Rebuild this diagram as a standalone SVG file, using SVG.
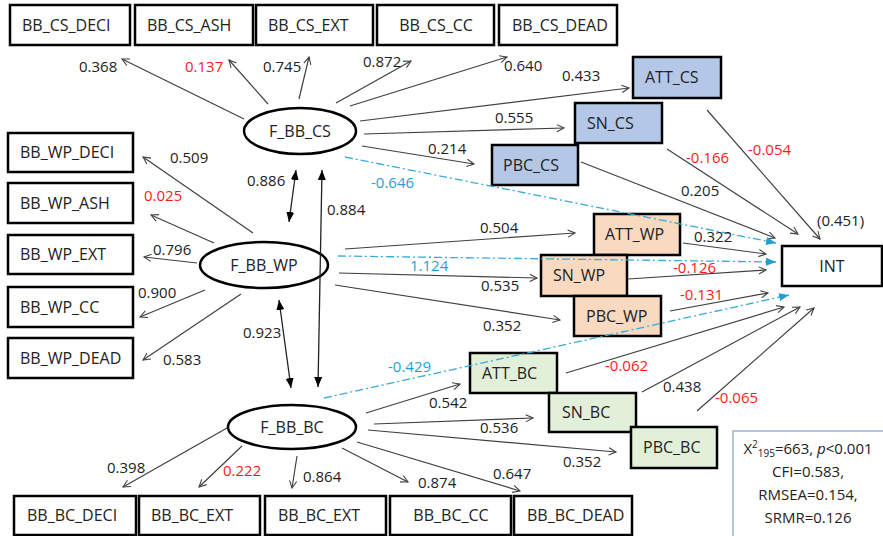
<svg xmlns="http://www.w3.org/2000/svg" width="883" height="536" viewBox="0 0 883 536">
<defs>
<style>
text{font-family:"Open Sans","Noto Sans","Liberation Sans",sans-serif;font-size:15px;fill:#222}
.n text{font-size:16px}
.box{fill:#fff;stroke:#000;stroke-width:2.5}
.cs{fill:#b4c7e7;stroke:#000;stroke-width:2.5}
.wp{fill:#f9dac0;stroke:#000;stroke-width:2.5}
.bc{fill:#e2efd9;stroke:#000;stroke-width:2.5}
.lat{fill:#fff;stroke:#000;stroke-width:2.5}
.ln{stroke:#404040;stroke-width:1.2;fill:none;marker-end:url(#ah)}
.dbl{stroke:#222;stroke-width:1.3;fill:none;marker-start:url(#fh);marker-end:url(#fh)}
.bl{stroke:#35acd8;stroke-width:1.3;fill:none;stroke-dasharray:8 3 2 3;marker-end:url(#bh)}
.r{fill:#ff1a1a}
.b{fill:#1f9fd2}
.st{fill:#fff;stroke:#9db4d0;stroke-width:1.5}
.c{text-anchor:middle}
</style>
<marker id="ah" viewBox="0 0 10 10" refX="9" refY="5" markerWidth="9" markerHeight="9" markerUnits="userSpaceOnUse" orient="auto"><path d="M1,1 L9,5 L1,9" fill="none" stroke="#404040" stroke-width="1.2"/></marker>
<marker id="fh" viewBox="0 0 10 10" refX="10" refY="5" markerWidth="10" markerHeight="10" markerUnits="userSpaceOnUse" orient="auto-start-reverse"><path d="M0,1 L10,5 L0,9z" fill="#000"/></marker>
<marker id="bh" viewBox="0 0 10 10" refX="10" refY="5" markerWidth="10" markerHeight="10" markerUnits="userSpaceOnUse" orient="auto"><path d="M0,1 L10,5 L0,9z" fill="#1f9fd2"/></marker>
</defs>

<g class="n">
<g id="BB_CS_DECI"><rect class="box" x="10" y="5" width="120" height="40"/><text x="22" y="31">BB_CS_DECI</text></g>
<g id="BB_CS_ASH"><rect class="box" x="135" y="5" width="118" height="40"/><text x="147" y="31">BB_CS_ASH</text></g>
<g id="BB_CS_EXT"><rect class="box" x="256" y="5" width="117" height="40"/><text x="268" y="31">BB_CS_EXT</text></g>
<g id="BB_CS_CC"><rect class="box" x="377" y="5" width="117" height="40"/><text class="c" x="436" y="31">BB_CS_CC</text></g>
<g id="BB_CS_DEAD"><rect class="box" x="499" y="5" width="118" height="40"/><text x="512" y="31">BB_CS_DEAD</text></g>

<g id="BB_WP_DECI"><rect class="box" x="8" y="133" width="125" height="39"/><text x="20" y="158">BB_WP_DECI</text></g>
<g id="BB_WP_ASH"><rect class="box" x="8" y="183" width="125" height="40"/><text x="20" y="209">BB_WP_ASH</text></g>
<g id="BB_WP_EXT"><rect class="box" x="8" y="235" width="125" height="39"/><text x="20" y="260">BB_WP_EXT</text></g>
<g id="BB_WP_CC"><rect class="box" x="8" y="287" width="125" height="40"/><text x="20" y="313">BB_WP_CC</text></g>
<g id="BB_WP_DEAD"><rect class="box" x="8" y="338" width="125" height="40"/><text x="20" y="364">BB_WP_DEAD</text></g>

<g id="BB_BC_DECI"><rect class="box" x="14" y="496" width="122" height="39"/><text x="27" y="521">BB_BC_DECI</text></g>
<g id="BB_BC_EXT"><rect class="box" x="139" y="496" width="121" height="39"/><text x="151" y="521">BB_BC_EXT</text></g>
<g id="BB_BC_EXT2"><rect class="box" x="265" y="496" width="121" height="39"/><text x="278" y="521">BB_BC_EXT</text></g>
<g id="BB_BC_CC"><rect class="box" x="390" y="496" width="121" height="39"/><text class="c" x="451" y="521">BB_BC_CC</text></g>
<g id="BB_BC_DEAD"><rect class="box" x="514" y="496" width="118" height="39"/><text x="527" y="521">BB_BC_DEAD</text></g>

<g id="ATT_CS"><rect class="cs" x="633" y="57" width="88" height="41"/><text x="645" y="83">ATT_CS</text></g>
<g id="SN_CS"><rect class="cs" x="575" y="103" width="87" height="40"/><text x="587" y="129">SN_CS</text></g>
<g id="PBC_CS"><rect class="cs" x="492" y="145" width="86" height="40"/><text x="503" y="171">PBC_CS</text></g>
<g id="ATT_WP"><rect class="wp" x="594" y="214" width="86" height="41"/><text x="605" y="240">ATT_WP</text></g>
<g id="SN_WP"><rect class="wp" x="541" y="255" width="86" height="41"/><text x="553" y="281">SN_WP</text></g>
<g id="PBC_WP"><rect class="wp" x="574" y="296" width="87" height="40"/><text x="586" y="322">PBC_WP</text></g>
<g id="ATT_BC"><rect class="bc" x="470" y="353" width="87" height="40"/><text x="482" y="379">ATT_BC</text></g>
<g id="SN_BC"><rect class="bc" x="549" y="393" width="87" height="39"/><text x="562" y="418">SN_BC</text></g>
<g id="PBC_BC"><rect class="bc" x="631" y="427" width="86" height="41"/><text x="643" y="453">PBC_BC</text></g>
<g id="INT"><rect class="box" x="782" y="246" width="100" height="40"/><text class="c" x="832" y="272">INT</text></g>

<g id="F_BB_CS"><ellipse class="lat" cx="300" cy="131" rx="56" ry="23"/><text class="c" x="300" y="137">F_BB_CS</text></g>
<g id="F_BB_WP"><ellipse class="lat" cx="264" cy="265" rx="64" ry="23"/><text class="c" x="264" y="271">F_BB_WP</text></g>
<g id="F_BB_BC"><ellipse class="lat" cx="292" cy="427" rx="64" ry="22"/><text class="c" x="292" y="433">F_BB_BC</text></g>
</g>

<g id="connectors">
<line class="ln" x1="244" y1="119" x2="122" y2="59"/>
<line class="ln" x1="268" y1="104" x2="229" y2="60"/>
<line class="ln" x1="299" y1="99" x2="309" y2="57"/>
<line class="ln" x1="336" y1="103" x2="411" y2="61"/>
<line class="ln" x1="350" y1="106" x2="507" y2="57"/>
<line class="ln" x1="360" y1="121" x2="629" y2="88"/>
<line class="ln" x1="364" y1="134" x2="564" y2="128"/>
<line class="ln" x1="362" y1="146" x2="474" y2="164"/>

<line class="ln" x1="253" y1="233" x2="143" y2="157"/>
<line class="ln" x1="214" y1="243" x2="151" y2="215"/>
<line class="ln" x1="197" y1="263" x2="144" y2="257"/>
<line class="ln" x1="205" y1="290" x2="140" y2="317"/>
<line class="ln" x1="241" y1="294" x2="143" y2="360"/>
<line class="ln" x1="345" y1="249" x2="575" y2="233"/>
<line class="ln" x1="339" y1="273" x2="537" y2="278"/>
<line class="ln" x1="335" y1="285" x2="560" y2="320"/>

<line class="ln" x1="227" y1="428" x2="123" y2="487"/>
<line class="ln" x1="242" y1="446" x2="199" y2="487"/>
<line class="ln" x1="297" y1="456" x2="292" y2="488"/>
<line class="ln" x1="342" y1="448" x2="408" y2="482"/>
<line class="ln" x1="357" y1="442" x2="520" y2="491"/>
<line class="ln" x1="366" y1="413" x2="460" y2="384"/>
<line class="ln" x1="374" y1="424" x2="533" y2="418"/>
<line class="ln" x1="368" y1="430" x2="616" y2="452"/>

<line class="dbl" x1="289" y1="222" x2="296" y2="170"/>
<line class="dbl" x1="322" y1="170" x2="318" y2="387"/>
<line class="dbl" x1="279" y1="300" x2="291" y2="388"/>

<line class="ln" x1="707" y1="110" x2="820" y2="239"/>
<line class="ln" x1="667" y1="149" x2="798" y2="234"/>
<line class="ln" x1="581" y1="162" x2="775" y2="238"/>
<line class="ln" x1="683" y1="243" x2="766" y2="254"/>
<line class="ln" x1="628" y1="279" x2="766" y2="270"/>
<line class="ln" x1="670" y1="311" x2="768" y2="293"/>
<line class="ln" x1="566" y1="373" x2="784" y2="307"/>
<line class="ln" x1="642" y1="392" x2="800" y2="307"/>
<line class="ln" x1="697" y1="411" x2="814" y2="308"/>

<line class="bl" x1="345" y1="157" x2="776" y2="243"/>
<line class="bl" x1="338" y1="256" x2="776" y2="262"/>
<line class="bl" x1="324" y1="398" x2="789" y2="295"/>
</g>

<g id="labels">
<text x="79" y="72">0.368</text>
<text class="r" x="185" y="72">0.137</text>
<text x="263" y="72">0.745</text>
<text x="363" y="67">0.872</text>
<text x="504" y="71">0.640</text>
<text x="562" y="81">0.433</text>
<text x="495" y="123">0.555</text>
<text x="428" y="154">0.214</text>
<text x="170" y="163">0.509</text>
<text class="r" x="144" y="201">0.025</text>
<text x="153" y="255">0.796</text>
<text x="138" y="298">0.900</text>
<text x="163" y="365">0.583</text>
<text x="247" y="186">0.886</text>
<text x="327" y="215">0.884</text>
<text x="243" y="338">0.923</text>
<text class="b" x="371" y="188">-0.646</text>
<text x="480" y="233">0.504</text>
<text class="b" x="410" y="271">1.124</text>
<text x="481" y="291">0.535</text>
<text x="483" y="331">0.352</text>
<text class="b" x="388" y="372">-0.429</text>
<text x="429" y="408">0.542</text>
<text x="480" y="433">0.536</text>
<text x="563" y="467">0.352</text>
<text x="107" y="473">0.398</text>
<text class="r" x="223" y="476">0.222</text>
<text x="303" y="482">0.864</text>
<text x="418" y="488">0.874</text>
<text x="493" y="479">0.647</text>
<text class="r" x="748" y="155">-0.054</text>
<text class="r" x="686" y="163">-0.166</text>
<text x="681" y="196">0.205</text>
<text x="817" y="226">(0.451)</text>
<text x="694" y="242">0.322</text>
<text class="r" x="673" y="273">-0.126</text>
<text class="r" x="680" y="300">-0.131</text>
<text class="r" x="605" y="371">-0.062</text>
<text x="663" y="392">0.438</text>
<text class="r" x="715" y="403">-0.065</text>
</g>

<g id="stats">
<rect class="st" x="733" y="431" width="152" height="108"/>
<text class="c" x="808" y="454">X<tspan font-size="10" dy="-6">2</tspan><tspan font-size="10" dy="9">195</tspan><tspan dy="-3">=663, </tspan><tspan font-style="italic">p</tspan>&lt;0.001</text>
<text class="c" x="808" y="477">CFI=0.583,</text>
<text class="c" x="808" y="500">RMSEA=0.154,</text>
<text class="c" x="808" y="523">SRMR=0.126</text>
</g>
</svg>
